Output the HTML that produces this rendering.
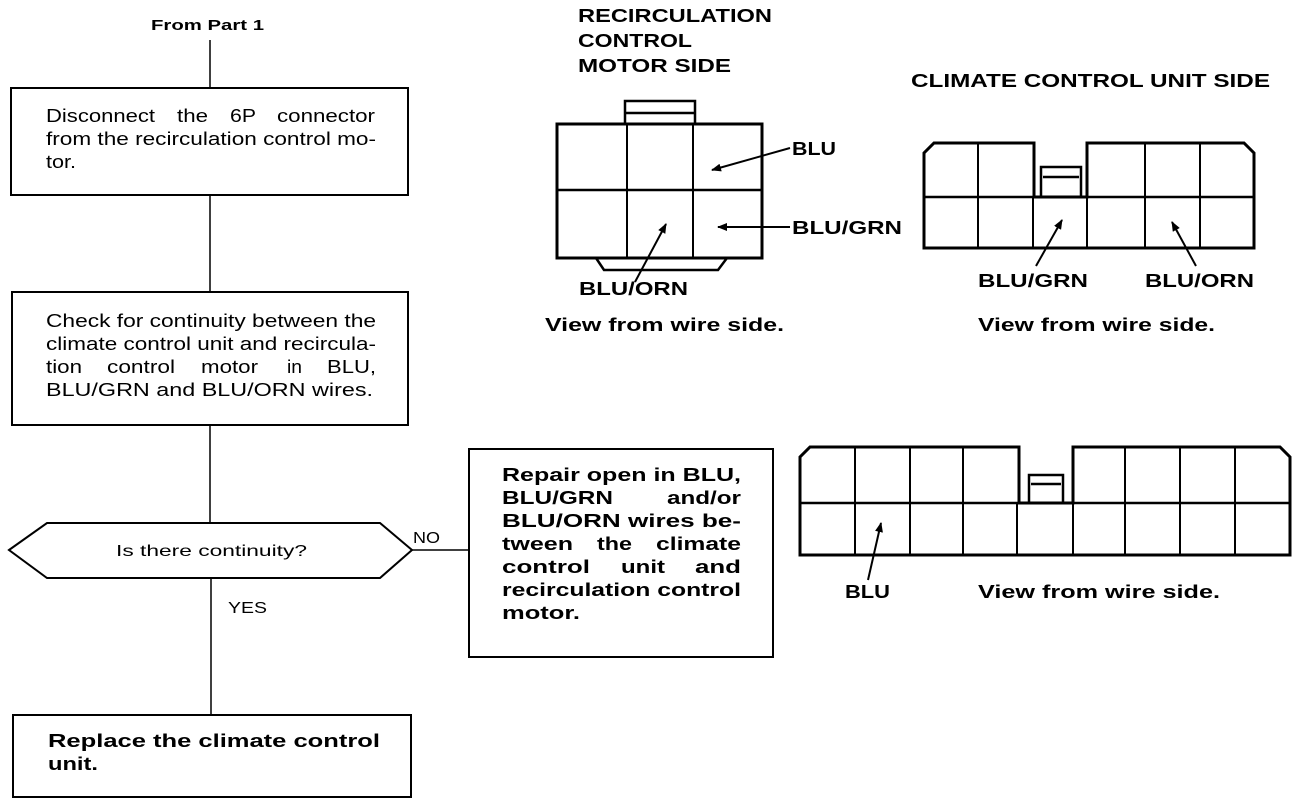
<!DOCTYPE html>
<html><head><meta charset="utf-8"><style>
html,body{margin:0;padding:0;background:#fff}
svg{display:block}
text{font-family:"Liberation Sans",Arial,sans-serif;fill:#000}
.b{font-weight:bold}
</style></head><body>
<svg width="1312" height="804" viewBox="0 0 1312 804" xmlns="http://www.w3.org/2000/svg">
<defs><marker id="ah" markerWidth="10" markerHeight="8" refX="9" refY="4" orient="auto" markerUnits="userSpaceOnUse"><path d="M0,0 L10,4 L0,8 Z" fill="#000"/></marker></defs>
<g stroke="#000" fill="none">
<line x1="210" y1="40" x2="210" y2="88" stroke-width="1.5"/>
<rect x="11" y="88" width="397" height="107" stroke-width="2"/>
<line x1="210" y1="195" x2="210" y2="292" stroke-width="1.5"/>
<rect x="12" y="292" width="396" height="133" stroke-width="2"/>
<line x1="210" y1="425" x2="210" y2="523" stroke-width="1.5"/>
<polygon points="9,550 47,523 380,523 412,550 380,578 47,578" stroke-width="2"/>
<line x1="412" y1="550" x2="469" y2="550" stroke-width="1.5"/>
<line x1="211" y1="578" x2="211" y2="715" stroke-width="1.5"/>
<rect x="469" y="449" width="304" height="208" stroke-width="2"/>
<rect x="13" y="715" width="398" height="82" stroke-width="2"/>
<rect x="557" y="124" width="205" height="134" stroke-width="3"/>
<line x1="557" y1="190" x2="762" y2="190" stroke-width="2.5"/>
<line x1="627" y1="124" x2="627" y2="258" stroke-width="2"/>
<line x1="693" y1="124" x2="693" y2="258" stroke-width="2"/>
<path d="M625,124 V101 H695 V124 M625,113 H695" stroke-width="2.5"/>
<path d="M596,258 L604,270 H718 L727,258" stroke-width="2.5"/>
<path d="M934,143 H1034 V197 H1087 V143 H1244 L1254,153 V248 H924 V153 Z" stroke-width="3"/>
<line x1="924" y1="197" x2="1254" y2="197" stroke-width="2.5"/>
<path d="M978,143 V248 M1033,197 V248 M1087,197 V248 M1145,143 V248 M1200,143 V248" stroke-width="2"/>
<path d="M1041,197 V167 H1081 V197 M1043,177 H1079" stroke-width="2.5"/>
<path d="M810,447 H1019 V503 H1073 V447 H1280 L1290,457 V555 H800 V457 Z" stroke-width="3"/>
<line x1="800" y1="503" x2="1290" y2="503" stroke-width="2.5"/>
<path d="M855,447 V555 M910,447 V555 M963,447 V555 M1017,503 V555 M1073,503 V555 M1125,447 V555 M1180,447 V555 M1235,447 V555" stroke-width="2"/>
<path d="M1029,503 V475 H1063 V503 M1031,484 H1061" stroke-width="2.5"/>
<g stroke-width="2" marker-end="url(#ah)">
<line x1="790" y1="148" x2="712" y2="170"/>
<line x1="790" y1="227" x2="718" y2="227"/>
<line x1="635" y1="282" x2="666" y2="224"/>
<line x1="1036" y1="266" x2="1062" y2="220"/>
<line x1="1196" y1="266" x2="1172" y2="222"/>
<line x1="868" y1="580" x2="881" y2="523"/>
</g>
</g>
<g class="b" font-size="18" lengthAdjust="spacingAndGlyphs">
<text x="578" y="22" textLength="194" lengthAdjust="spacingAndGlyphs">RECIRCULATION</text>
<text x="578" y="47" textLength="114" lengthAdjust="spacingAndGlyphs">CONTROL</text>
<text x="578" y="72" textLength="153" lengthAdjust="spacingAndGlyphs">MOTOR SIDE</text>
<text x="911" y="87" textLength="359" lengthAdjust="spacingAndGlyphs">CLIMATE CONTROL UNIT SIDE</text>
<text x="151" y="30" font-size="15" textLength="113" lengthAdjust="spacingAndGlyphs">From Part 1</text>
<text x="792" y="155" textLength="44" lengthAdjust="spacingAndGlyphs">BLU</text>
<text x="792" y="234" textLength="110" lengthAdjust="spacingAndGlyphs">BLU/GRN</text>
<text x="579" y="295" textLength="109" lengthAdjust="spacingAndGlyphs">BLU/ORN</text>
<text x="978" y="287" textLength="110" lengthAdjust="spacingAndGlyphs">BLU/GRN</text>
<text x="1145" y="287" textLength="109" lengthAdjust="spacingAndGlyphs">BLU/ORN</text>
<text x="845" y="598" textLength="45" lengthAdjust="spacingAndGlyphs">BLU</text>
<text x="545" y="331" textLength="239" lengthAdjust="spacingAndGlyphs">View from wire side.</text>
<text x="978" y="331" textLength="237" lengthAdjust="spacingAndGlyphs">View from wire side.</text>
<text x="978" y="598" textLength="242" lengthAdjust="spacingAndGlyphs">View from wire side.</text>
</g>
<g font-size="18">
<text x="46" y="122" textLength="109" lengthAdjust="spacingAndGlyphs">Disconnect</text>
<text x="177" y="122" textLength="31" lengthAdjust="spacingAndGlyphs">the</text>
<text x="230" y="122" textLength="26" lengthAdjust="spacingAndGlyphs">6P</text>
<text x="277" y="122" textLength="98" lengthAdjust="spacingAndGlyphs">connector</text>
<text x="46" y="145" textLength="330" lengthAdjust="spacingAndGlyphs">from the recirculation control mo-</text>
<text x="46" y="168" textLength="30" lengthAdjust="spacingAndGlyphs">tor.</text>
<text x="46" y="327" textLength="330" lengthAdjust="spacingAndGlyphs">Check for continuity between the</text>
<text x="46" y="350" textLength="330" lengthAdjust="spacingAndGlyphs">climate control unit and recircula-</text>
<text x="46" y="373" textLength="36" lengthAdjust="spacingAndGlyphs">tion</text>
<text x="107" y="373" textLength="68" lengthAdjust="spacingAndGlyphs">control</text>
<text x="201" y="373" textLength="57" lengthAdjust="spacingAndGlyphs">motor</text>
<text x="287" y="373" textLength="15" lengthAdjust="spacingAndGlyphs">in</text>
<text x="327" y="373" textLength="49" lengthAdjust="spacingAndGlyphs">BLU,</text>
<text x="46" y="396" textLength="327" lengthAdjust="spacingAndGlyphs">BLU/GRN and BLU/ORN wires.</text>
<text x="116" y="556" font-size="16" textLength="191" lengthAdjust="spacingAndGlyphs">Is there continuity?</text>
<text x="413" y="543" font-size="16" textLength="27" lengthAdjust="spacingAndGlyphs">NO</text>
<text x="228" y="613" font-size="16" textLength="39" lengthAdjust="spacingAndGlyphs">YES</text>
</g>
<g font-size="18" class="b">
<text x="502" y="481" textLength="239" lengthAdjust="spacingAndGlyphs">Repair open in BLU,</text>
<text x="502" y="504" textLength="111" lengthAdjust="spacingAndGlyphs">BLU/GRN</text>
<text x="667" y="504" textLength="74" lengthAdjust="spacingAndGlyphs">and/or</text>
<text x="502" y="527" textLength="239" lengthAdjust="spacingAndGlyphs">BLU/ORN wires be-</text>
<text x="502" y="550" textLength="71" lengthAdjust="spacingAndGlyphs">tween</text>
<text x="597" y="550" textLength="35" lengthAdjust="spacingAndGlyphs">the</text>
<text x="656" y="550" textLength="85" lengthAdjust="spacingAndGlyphs">climate</text>
<text x="502" y="573" textLength="88" lengthAdjust="spacingAndGlyphs">control</text>
<text x="621" y="573" textLength="44" lengthAdjust="spacingAndGlyphs">unit</text>
<text x="695" y="573" textLength="46" lengthAdjust="spacingAndGlyphs">and</text>
<text x="502" y="596" textLength="239" lengthAdjust="spacingAndGlyphs">recirculation control</text>
<text x="502" y="619" textLength="78" lengthAdjust="spacingAndGlyphs">motor.</text>
<text x="48" y="747" textLength="332" lengthAdjust="spacingAndGlyphs">Replace the climate control</text>
<text x="48" y="770" textLength="50" lengthAdjust="spacingAndGlyphs">unit.</text>
</g>
</svg>
</body></html>
